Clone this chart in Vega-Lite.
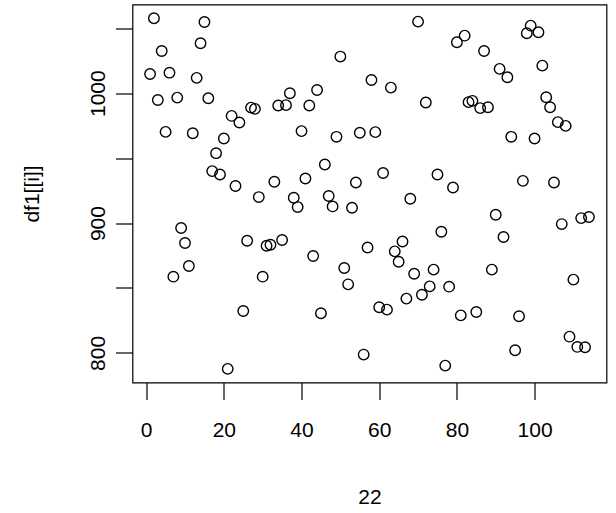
{
  "$schema": "https://vega.github.io/schema/vega-lite/v6.json",
  "width": 474,
  "height": 378,
  "autosize": {"type": "none"},
  "padding": {"left": 132.5, "top": 4.5, "right": 9.5, "bottom": 130.5},
  "background": "white",
  "config": {
    "view": {"stroke": "black", "strokeWidth": 1.2},
    "font": "Liberation Sans",
    "axis": {"grid": false, "domain": false, "tickColor": "black", "labelColor": "black", "titleColor": "black", "labelFont": "Liberation Sans", "titleFont": "Liberation Sans", "titleFontWeight": "normal"}
  },
  "data": {"values": [
    {"i":1,"v":1014.8},{"i":2,"v":1057.7},{"i":3,"v":994.8},{"i":4,"v":1032.5},{"i":5,"v":970.2},
    {"i":6,"v":1015.8},{"i":7,"v":858.7},{"i":8,"v":996.6},{"i":9,"v":896.2},{"i":10,"v":884.6},
    {"i":11,"v":866.9},{"i":12,"v":969.2},{"i":13,"v":1011.8},{"i":14,"v":1038.5},{"i":15,"v":1054.8},
    {"i":16,"v":996.1},{"i":17,"v":940},{"i":18,"v":953.8},{"i":19,"v":937.4},{"i":20,"v":965.1},
    {"i":21,"v":787.7},{"i":22,"v":982.5},{"i":23,"v":928.5},{"i":24,"v":977.4},{"i":25,"v":832.3},
    {"i":26,"v":886.4},{"i":27,"v":988.9},{"i":28,"v":987.9},{"i":29,"v":920},{"i":30,"v":858.7},
    {"i":31,"v":882.5},{"i":32,"v":883.3},{"i":33,"v":931.8},{"i":34,"v":990.5},{"i":35,"v":886.9},
    {"i":36,"v":990.8},{"i":37,"v":1000},{"i":38,"v":919.5},{"i":39,"v":912.3},{"i":40,"v":970.8},
    {"i":41,"v":934.3},{"i":42,"v":990.5},{"i":43,"v":874.6},{"i":44,"v":1002.5},{"i":45,"v":830.5},
    {"i":46,"v":945.1},{"i":47,"v":920.8},{"i":48,"v":912.8},{"i":49,"v":966.4},{"i":50,"v":1028.2},
    {"i":51,"v":865.4},{"i":52,"v":852.8},{"i":53,"v":911.8},{"i":54,"v":931.2},{"i":55,"v":969.5},
    {"i":56,"v":798.7},{"i":57,"v":881.2},{"i":58,"v":1010.2},{"i":59,"v":970},{"i":60,"v":835.1},
    {"i":61,"v":938.5},{"i":62,"v":833.3},{"i":63,"v":1004.3},{"i":64,"v":878.2},{"i":65,"v":870.2},
    {"i":66,"v":885.8},{"i":67,"v":841.8},{"i":68,"v":918.7},{"i":69,"v":861},{"i":70,"v":1055.1},
    {"i":71,"v":844.8},{"i":72,"v":992.8},{"i":73,"v":851.2},{"i":74,"v":864.1},{"i":75,"v":937.4},
    {"i":76,"v":893.3},{"i":77,"v":790.2},{"i":78,"v":851},{"i":79,"v":927.4},{"i":80,"v":1039.2},
    {"i":81,"v":828.9},{"i":82,"v":1044.3},{"i":83,"v":993.1},{"i":84,"v":994.1},{"i":85,"v":831.5},
    {"i":86,"v":988.5},{"i":87,"v":1032.5},{"i":88,"v":989.2},{"i":89,"v":864.1},{"i":90,"v":906.4},
    {"i":91,"v":1018.7},{"i":92,"v":889.2},{"i":93,"v":1012.3},{"i":94,"v":966.4},{"i":95,"v":802},
    {"i":96,"v":828.2},{"i":97,"v":932.5},{"i":98,"v":1046.2},{"i":99,"v":1052},{"i":100,"v":965.1},
    {"i":101,"v":1046.9},{"i":102,"v":1021.2},{"i":103,"v":996.9},{"i":104,"v":989.2},{"i":105,"v":931.2},
    {"i":106,"v":977.7},{"i":107,"v":899.2},{"i":108,"v":974.8},{"i":109,"v":812.5},{"i":110,"v":856.4},
    {"i":111,"v":804.6},{"i":112,"v":903.8},{"i":113,"v":804.3},{"i":114,"v":904.6}
  ]},
  "mark": {"type": "point", "shape": "circle", "size": 110, "filled": false, "stroke": "black", "strokeWidth": 1.4, "opacity": 1},
  "encoding": {
    "x": {
      "field": "i", "type": "quantitative",
      "scale": {"domain": [-3.52, 118.52], "nice": false, "zero": false},
      "axis": {"title": "22", "values": [0, 20, 40, 60, 80, 100], "format": "d", "tickSize": 17, "tickWidth": 1.2, "labelFontSize": 21, "labelPadding": 20, "labelBaseline": "top", "titleFontSize": 21, "titlePadding": 46}
    },
    "y": {
      "field": "v", "type": "quantitative",
      "scale": {"domain": [777.2, 1068.3], "nice": false, "zero": false},
      "axis": {"title": "df1[[i]]", "values": [800, 850, 900, 950, 1000, 1050], "labelExpr": "datum.value % 100 === 0 ? toString(datum.value) : ''", "tickSize": 17, "tickWidth": 1.2, "labelAngle": -90, "labelAlign": "center", "labelBaseline": "middle", "labelFontSize": 21, "labelPadding": 17, "titleFontSize": 21, "titlePadding": 45}
    }
  }
}
